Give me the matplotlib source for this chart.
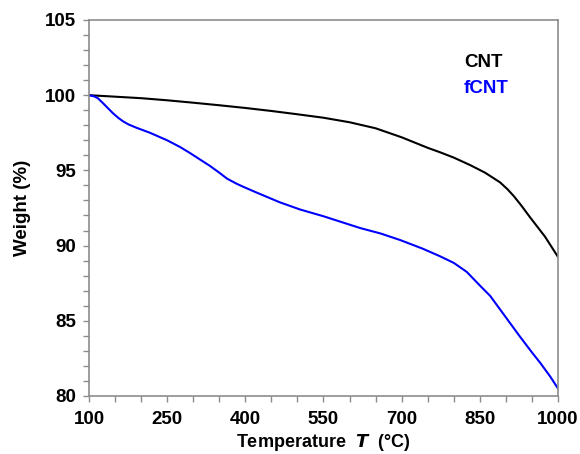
import matplotlib
matplotlib.use("Agg")
import matplotlib.pyplot as plt
from matplotlib.ticker import MultipleLocator

plt.rcParams['font.family'] = ['Liberation Sans', 'DejaVu Sans']

# CNT (black)
t_cnt = [100, 150, 200, 250, 300, 350, 400, 450, 500, 550, 600, 650, 700,
         750, 774, 800, 831, 860, 889, 903, 915, 930, 946, 975, 1000]
w_cnt = [100.0, 99.9, 99.8, 99.66, 99.5, 99.33, 99.15, 98.95, 98.73, 98.5,
         98.2, 97.8, 97.2, 96.5, 96.2, 95.85, 95.36, 94.85, 94.2, 93.75,
         93.3, 92.65, 91.9, 90.6, 89.25]

# fCNT (blue)
t_fcnt = [100, 110, 117, 126, 136, 146, 156, 165, 175, 190, 200, 217, 250,
          275, 294, 332, 350, 365, 384, 400, 420, 466, 505, 550, 620, 660,
          697, 740, 773, 800, 825, 850, 870, 889, 908, 927, 950, 966, 985,
          1000]
w_fcnt = [100.0, 99.92, 99.8, 99.5, 99.15, 98.8, 98.5, 98.27, 98.07, 97.85,
          97.72, 97.5, 97.0, 96.55, 96.15, 95.3, 94.85, 94.45, 94.1, 93.85,
          93.55, 92.88, 92.4, 91.95, 91.17, 90.8, 90.37, 89.8, 89.3, 88.85,
          88.25, 87.35, 86.65, 85.75, 84.85, 83.95, 82.9, 82.2, 81.3, 80.5]

fig = plt.figure(figsize=(5.8, 4.54), dpi=100)
ax = fig.add_axes([0.1534, 0.1278, 0.8086, 0.8282])

ax.plot(t_cnt, w_cnt, color='black', lw=1.5)
ax.plot(t_fcnt, w_fcnt, color='#0000ff', lw=1.5)

ax.set_xlim(100, 1000)
ax.set_ylim(80, 105)
ax.set_xticks(range(100, 1001, 150))
ax.set_xticks(range(100, 1001, 50), minor=True)
ax.yaxis.set_major_locator(MultipleLocator(5))
ax.yaxis.set_minor_locator(MultipleLocator(1))

for s in ax.spines.values():
    s.set_color('#8c8c8c')
    s.set_linewidth(1.2)
ax.tick_params(which='both', direction='out', color='#8c8c8c', width=1,
               labelsize=13.5, top=False, right=False, length=4)
ax.tick_params(axis='x', which='major', pad=7)
ax.tick_params(axis='y', which='major', pad=5)
for lab in ax.get_xticklabels() + ax.get_yticklabels():
    lab.set_fontweight('bold')

ax.set_ylabel('Weight (%)', fontsize=13.5, fontweight='bold', labelpad=10)
ax.set_xlabel(r'Temperature  $\mathbfit{T}$  (°C)', fontsize=13,
              fontweight='bold', labelpad=3)

ax.text(819.6, 101.87, 'CNT', fontsize=13.5, fontweight='bold',
        color='black', va='baseline', ha='left')
ax.text(819.6, 100.15, 'fCNT', fontsize=13.5, fontweight='bold',
        color='#0000ff', va='baseline', ha='left')

fig.savefig('out.png', dpi=100)
